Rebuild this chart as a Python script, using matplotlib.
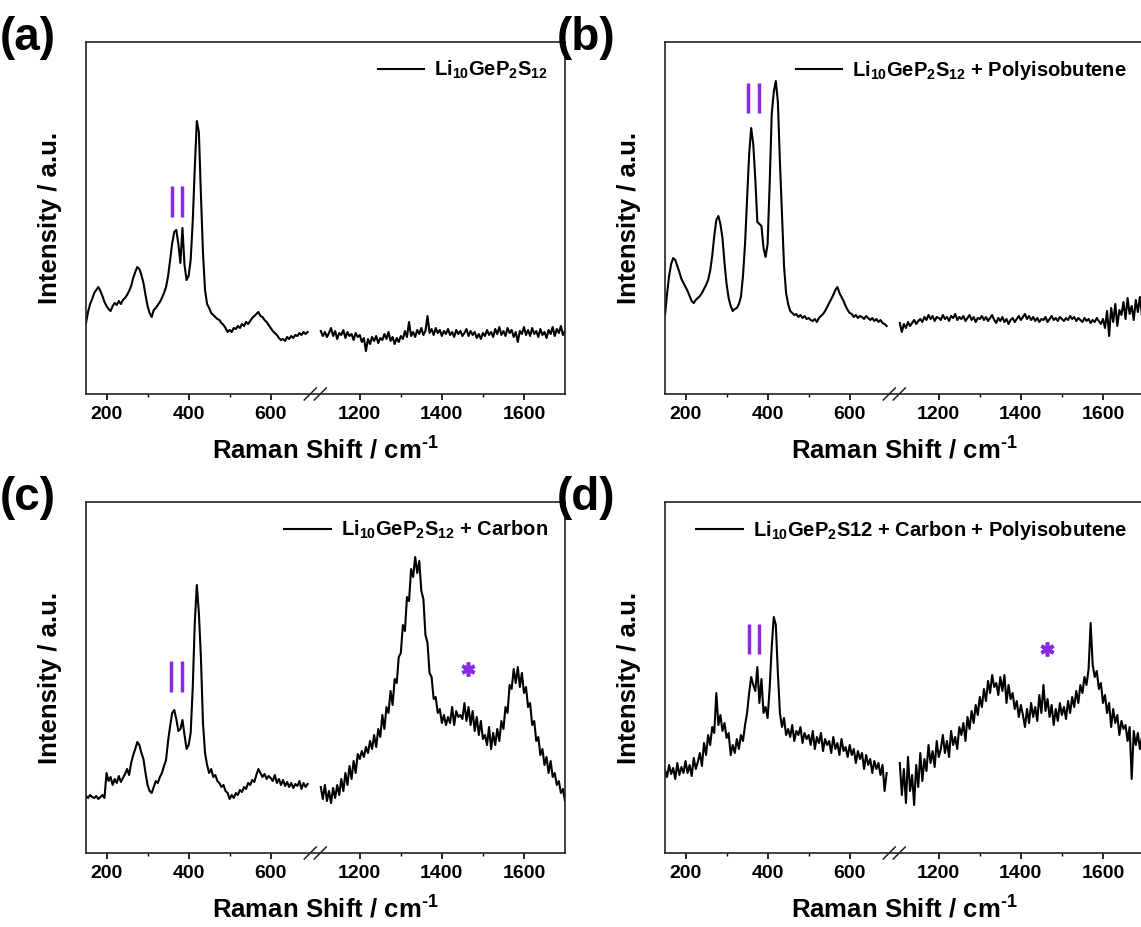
import matplotlib
matplotlib.use("Agg")
import matplotlib.pyplot as plt
import numpy as np

plt.rcParams["font.family"] = ["Liberation Sans", "DejaVu Sans"]
plt.rcParams["font.weight"] = "bold"
plt.rcParams["mathtext.fontset"] = "custom"
plt.rcParams["mathtext.rm"] = "Liberation Sans:bold"
plt.rcParams["mathtext.bf"] = "Liberation Sans:bold"

# Raman shift grid (cm-1), two segments around the axis break
x_lo = np.arange(150, 691, 5)
x_hi = np.arange(1105, 1701, 5)

# intensities (a.u.)
a_lo = [71, 82, 90, 95, 101, 104, 107, 103, 98, 92,
        88, 85, 83, 88, 91, 89, 93, 90, 94, 96,
        99, 103, 108, 116, 122, 127, 125, 119, 111, 99,
        88, 81, 77, 84, 86, 89, 92, 96, 101, 107,
        118, 134, 151, 162, 164, 150, 131, 166, 129, 114,
        118, 134, 172, 226, 273, 262, 199, 141, 104, 90,
        86, 81, 79, 77, 75, 74, 71, 69, 66, 62,
        64, 62, 66, 65, 68, 66, 70, 68, 72, 70,
        73, 76, 78, 80, 82, 78, 77, 74, 72, 69,
        66, 63, 61, 59, 56, 54, 55, 53, 57, 55,
        58, 56, 59, 58, 61, 59, 62, 60, 62]
a_hi = [63, 58, 62, 57, 61, 66, 58, 63, 55, 61,
        59, 64, 56, 62, 58, 60, 54, 61, 57, 59,
        52, 56, 43, 55, 50, 57, 53, 58, 51, 56,
        54, 60, 55, 62, 53, 57, 50, 56, 52, 58,
        55, 63, 57, 72, 58, 62, 57, 64, 60, 66,
        59, 63, 78, 61, 65, 59, 66, 61, 64, 58,
        63, 60, 65, 59, 62, 57, 64, 60, 63, 58,
        61, 65, 58, 63, 59, 62, 56, 60, 55, 61,
        58, 64, 59, 62, 57, 65, 60, 67, 59, 63,
        58, 66, 61, 64, 57, 62, 52, 63, 60, 67,
        59, 64, 58, 66, 60, 63, 57, 65, 59, 62,
        56, 64, 60, 67, 58, 65, 61, 68, 59, 63]

b_lo = [79, 100, 118, 130, 136, 134, 128, 122, 115, 111,
        107, 103, 98, 93, 91, 94, 96, 98, 101, 105,
        109, 114, 123, 138, 158, 174, 178, 170, 156, 131,
        110, 96, 88, 83, 85, 86, 90, 97, 118, 150,
        195, 240, 266, 250, 215, 172, 170, 168, 146, 137,
        150, 210, 280, 302, 313, 292, 232, 180, 128, 101,
        90, 83, 81, 79, 80, 77, 79, 76, 78, 75,
        76, 74, 73, 75, 72, 76, 78, 80, 83, 87,
        91, 95, 99, 104, 107, 101, 97, 93, 88, 84,
        81, 80, 77, 79, 76, 78, 77, 75, 78, 76,
        74, 76, 73, 75, 72, 74, 71, 70, 68]
b_hi = [71, 62, 70, 66, 72, 68, 71, 74, 70, 73,
        75, 72, 77, 74, 79, 75, 78, 73, 77, 76,
        74, 79, 75, 77, 73, 78, 76, 80, 74, 77,
        75, 78, 73, 76, 79, 74, 77, 72, 76, 75,
        78, 74, 77, 73, 76, 79, 74, 71, 76, 73,
        77, 72, 75, 70, 74, 76, 72, 75, 78, 74,
        77, 80, 75, 78, 74, 77, 73, 76, 72, 75,
        74, 77, 72, 75, 78, 74, 76, 73, 77, 75,
        73, 76, 74, 78, 75, 77, 73, 76, 74, 72,
        76, 73, 75, 71, 74, 72, 76, 73, 70, 75,
        66, 83, 58, 86, 72, 90, 68, 84, 79, 92,
        75, 96, 80, 88, 74, 94, 82, 97, 78, 90]

c_lo = [57, 55, 58, 56, 55, 57, 54, 56, 58, 55,
        80, 72, 76, 68, 74, 70, 77, 71, 75, 79,
        84, 78, 90, 98, 104, 111, 108, 100, 94, 80,
        68, 62, 60, 66, 72, 70, 76, 80, 87, 93,
        112, 127, 140, 143, 134, 122, 124, 133, 118, 104,
        108, 120, 165, 230, 268, 240, 195, 130, 100, 88,
        80, 84, 76, 78, 72, 70, 66, 68, 62, 60,
        54, 58, 55, 60, 58, 63, 61, 66, 64, 70,
        68, 73, 71, 78, 84, 80, 76, 79, 74, 77,
        75, 72, 78, 70, 74, 68, 73, 67, 71, 66,
        70, 65, 69, 67, 72, 64, 70, 66, 69]
c_hi = [66, 54, 68, 52, 62, 50, 65, 55, 68, 58,
        74, 62, 80, 68, 87, 74, 92, 80, 99, 94,
        102, 96, 106, 100, 112, 104, 118, 106, 124, 116,
        138, 124, 146, 140, 162, 148, 174, 170, 196, 200,
        228, 222, 256, 252, 284, 276, 296, 280, 292, 262,
        254, 218, 210, 180, 176, 154, 156, 140, 144, 130,
        138, 128, 136, 130, 146, 128, 142, 136, 138, 134,
        150, 132, 146, 128, 142, 122, 136, 118, 132, 114,
        118, 108, 126, 104, 120, 108, 124, 112, 132, 124,
        146, 140, 168, 164, 184, 170, 186, 166, 180, 160,
        166, 146, 150, 128, 132, 112, 116, 98, 104, 88,
        96, 80, 92, 76, 80, 68, 72, 60, 64, 52]

d_lo = [83, 76, 88, 79, 85, 74, 90, 78, 86, 80,
        92, 80, 88, 77, 95, 84, 91, 100, 87, 110,
        98, 118, 108, 126, 120, 160, 128, 138, 122, 130,
        115, 120, 98, 108, 100, 114, 104, 118, 112, 128,
        140, 160, 176, 168, 162, 186, 150, 174, 140, 146,
        135, 165, 206, 236, 228, 180, 140, 126, 135, 118,
        124, 116, 128, 112, 122, 118, 126, 110, 120, 114,
        118, 108, 122, 104, 116, 110, 120, 102, 114, 108,
        112, 100, 116, 104, 110, 98, 114, 102, 106, 96,
        108, 98, 104, 90, 102, 94, 100, 84, 98, 88,
        94, 80, 92, 84, 90, 78, 88, 62, 80]
d_hi = [90, 58, 84, 50, 96, 62, 78, 48, 88, 66,
        100, 72, 94, 82, 108, 90, 102, 86, 112, 96,
        104, 118, 100, 112, 96, 122, 108, 116, 104, 126,
        118, 130, 112, 136, 124, 142, 130, 148, 138, 156,
        146, 164, 152, 172, 160, 178, 166, 170, 158, 176,
        162, 178, 150, 168, 154, 160, 144, 152, 136, 148,
        138, 126, 144, 130, 150, 136, 146, 132, 158, 140,
        168, 142, 154, 136, 148, 128, 144, 132, 150, 138,
        146, 134, 152, 140, 156, 146, 162, 150, 168, 160,
        176, 168, 184, 230, 188, 176, 182, 164, 170, 150,
        158, 140, 150, 126, 144, 130, 138, 118, 132, 124,
        128, 112, 126, 74, 122, 108, 120, 104, 116, 110]

labels = [r"$\mathbf{Li_{10}GeP_{2}S_{12}}$",
          r"$\mathbf{Li_{10}GeP_{2}S_{12}}$ + Polyisobutene",
          r"$\mathbf{Li_{10}GeP_{2}S_{12}}$ + Carbon",
          r"$\mathbf{Li_{10}GeP_{2}S}$12 + Carbon + Polyisobutene"]
letters = ["(a)", "(b)", "(c)", "(d)"]
# "||" marks: x positions and (bottom, top) heights
bars_x = [(360, 385), (353, 378), (358, 383), (355, 380)]
bars_y = [(177, 208), (281, 311), (161, 192), (199, 229)]
# "*" marks (panels c, d)
stars = [None, None, (1464, 184), (1463, 204)]
ymax = [352, 352, 351, 351]

BRK_LO, BRK_HI, GAP = 700, 1100, 17
SPAN = BRK_HI - BRK_LO


def fwd(x):
    x = np.asarray(x, float)
    return np.where(x <= BRK_LO, x,
                    np.where(x >= BRK_HI, x - SPAN + GAP,
                             BRK_LO + (x - BRK_LO) * GAP / SPAN))


def inv(y):
    y = np.asarray(y, float)
    return np.where(y <= BRK_LO, y,
                    np.where(y >= BRK_LO + GAP, y + SPAN - GAP,
                             BRK_LO + (y - BRK_LO) * SPAN / GAP))


W, H = 1141, 927
fig = plt.figure(figsize=(W / 100, H / 100), dpi=100)

boxes = [(86, 42), (665, 42), (86, 502), (665, 502)]
letter_pos = [(0, 16), (557, 16), (0, 476), (557, 476)]
purple = "#8a2be2"
series = [(a_lo, a_hi), (b_lo, b_hi), (c_lo, c_hi), (d_lo, d_hi)]

for i in range(4):
    left, top = boxes[i]
    aw, ah = 479, ymax[i]
    ax = fig.add_axes([left / W, 1 - (top + ah) / H, aw / W, ah / H])
    ax.set_xscale("function", functions=(fwd, inv))
    lo, hi = series[i]
    ax.plot(x_lo, lo, color="black", lw=1.5, label=labels[i])
    ax.plot(x_hi, hi, color="black", lw=1.5)
    ax.set_xlim(150, 1700)
    ax.set_ylim(0, ymax[i])
    ax.set_xticks([200, 400, 600, 1200, 1400, 1600])
    ax.set_xticks([300, 500, 1300, 1500], minor=True)
    ax.set_xticklabels(["200", "400", "600", "1200", "1400", "1600"])
    ax.set_yticks([])
    ax.tick_params(axis="x", which="major", direction="out", length=4.5,
                   width=1.2, labelsize=14, pad=4)
    ax.tick_params(axis="x", which="minor", direction="out", length=2.5, width=1.0)
    for lab in ax.get_xticklabels():
        lab.set_fontweight("bold")
    for sp in ax.spines.values():
        sp.set_linewidth(1.2)
        sp.set_color("#222222")
    ax.set_xlabel(r"Raman Shift / cm$^{\text{-}1}$", fontsize=18.5,
                  fontweight="bold", labelpad=9)
    ax.set_ylabel("Intensity / a.u.", fontsize=18.5, fontweight="bold",
                  labelpad=17)

    ax.vlines(bars_x[i], bars_y[i][0], bars_y[i][1], color=purple, lw=2.5)
    if stars[i] is not None:
        ax.plot([stars[i][0]], [stars[i][1]], marker=(6, 2, 0), ms=10,
                mew=2.6, color=purple, ls="none")

    ax.legend(loc="upper right", frameon=False,
              handlelength=2.3, handletextpad=0.5, borderaxespad=0.45,
              prop={"weight": "bold", "size": 14.5})

    # axis break marks
    fc = (fwd(900) - fwd(150)) / (fwd(1700) - fwd(150))
    px, py = 1 / aw, 1 / ah
    for off in (-5, 5):
        ax.plot([fc + (off - 6) * px, fc + (off + 6) * px], [-6 * py, 6 * py],
                transform=ax.transAxes, color="#222222", lw=1.1, clip_on=False)

    lx, ly = letter_pos[i]
    fig.text(lx / W, 1 - ly / H, letters[i], fontsize=33, fontweight="bold",
             va="top", ha="left")

fig.savefig("out.png", dpi=100)
